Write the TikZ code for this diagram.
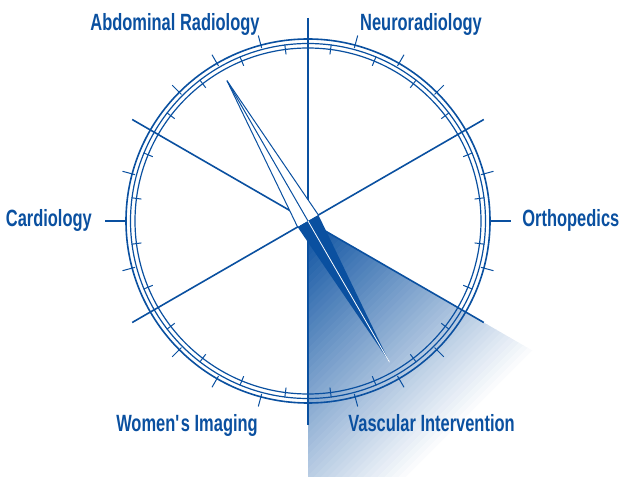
\documentclass[tikz,border=0pt]{standalone}
\usepackage{fontspec}
\newfontfamily\labelfont[FakeStretch=0.70]{Liberation Sans}
\definecolor{navy}{RGB}{10,80,160}
\tikzset{
  lbl/.style={font=\labelfont\bfseries\fontsize{23.5}{26}\selectfont, text=navy, inner sep=0pt},
  ring/.style={draw=navy, line width=1.2},
  tickmark/.style={draw=navy, line width=1},
  sector/.style={draw=navy, line width=1.6},
}
\begin{document}
\begin{tikzpicture}[x=1pt,y=1pt]
\useasboundingbox (-308,-255) rectangle (315,221);
\coordinate (c) at (0,0);
% shaded wedge
\begin{scope}
  \clip (c) -- (270:300) arc[start angle=270,end angle=330,radius=300] -- cycle;
  \foreach \i in {0,...,50}{
    \pgfmathtruncatemacro\p{100-2*\i}
    \fill[navy!\p!white, rotate=-45] (5*\i,-400) rectangle (5*\i+5.6,400);
  }
\end{scope}
% rings
\draw[ring, line width=1.6] (c) circle[radius=182];
\draw[ring] (c) circle[radius=177.5];
\draw[ring] (c) circle[radius=173];
% ticks
\foreach \a in {15,45,60,75,105,120,135,165,195,225,240,255,285,300,315,345}
  \draw[tickmark] (\a:179) -- (\a:192);
\foreach \k in {0,...,23}
  \draw[tickmark] ({7.5+15*\k}:168) -- ({7.5+15*\k}:178);
\draw[tickmark, line width=1.3] (0:182) -- (0:203);
\draw[tickmark, line width=1.3] (180:182) -- (180:203);
% sector lines
\draw[sector, line width=2] (90:203) -- (270:204);
\draw[sector] (30:203) -- (210:203);
\draw[sector] (150:203) -- (330:203);
% needle
\coordinate (tipA) at (120:162);
\coordinate (tipB) at (300:163);
\coordinate (bl) at (210:12);
\coordinate (br) at (30:12);
\filldraw[fill=white, draw=navy, line width=1, line join=round] (bl) -- (tipA) -- (br);
\draw[navy, line width=1] (c) -- (tipA);
\fill[navy] (bl) -- (tipB) -- (br) -- cycle;
\draw[white, line width=0.8] (c) -- (tipB);
% labels
\node[lbl, anchor=base] (abd) at (-133,190) {Abdominal Radiology};
\node[lbl, anchor=base] (neuro) at (113,190.5) {Neuroradiology};
\node[lbl, anchor=base east] (cardio) at (-216,-6) {Cardiology};
\node[lbl, anchor=base east] (ortho) at (311.5,-6) {Orthopedics};
\node[lbl, anchor=base] (women) at (-121,-210.7) {Women\textquotesingle s Imaging};
\node[lbl, anchor=base] (vasc) at (123.5,-210.7) {Vascular Intervention};
\end{tikzpicture}
\end{document}
